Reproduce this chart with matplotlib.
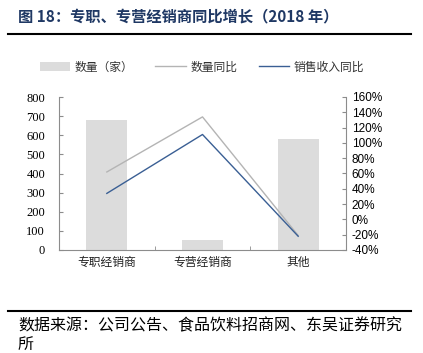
import matplotlib.pyplot as plt
from matplotlib.patches import Patch
from matplotlib.lines import Line2D

plt.rcParams['font.family'] = ['Noto Sans CJK SC', 'DejaVu Sans']

categories = ['专职经销商', '专营经销商', '其他']
counts = [680, 50, 580]            # 数量（家）
count_yoy = [62, 134, -21]         # 数量同比 %
revenue_yoy = [34, 111, -22]       # 销售收入同比 %
left_ticks = [0, 100, 200, 300, 400, 500, 600, 700, 800]
right_ticks = [-40, -20, 0, 20, 40, 60, 80, 100, 120, 140, 160]

bar_color = '#DCDCDC'
gray_line = '#B4B4B4'
blue_line = '#3A5F94'
spine_color = '#8C8C8C'

fig = plt.figure(figsize=(4.23, 3.53), dpi=100)
ax = fig.add_axes([59 / 423, 1 - 250 / 353, 287 / 423, 153 / 353])
x = list(range(len(categories)))

ax.bar(x, counts, width=0.43, color=bar_color, zorder=1)
ax.set_xlim(-0.5, 2.5)
ax.set_ylim(0, 800)
ax.set_yticks(left_ticks)
ax.set_yticklabels([str(t) for t in left_ticks], family='Liberation Serif', fontsize=9)
ax.set_xticks(x)
ax.set_xticklabels(categories, fontsize=8.5, color='#222222')
ax.set_xticks([0.5, 1.5], minor=True)
ax.tick_params(axis='x', which='major', length=0, pad=4)
ax.tick_params(axis='x', which='minor', direction='in', length=3, color=spine_color)
ax.tick_params(axis='y', direction='in', length=3, color=spine_color, pad=10)
for s in ['top', 'right']:
    ax.spines[s].set_visible(False)
ax.spines['left'].set_color(spine_color)
ax.spines['bottom'].set_color(spine_color)

ax2 = ax.twinx()
ax2.plot(x, count_yoy, color=gray_line, lw=1.0, zorder=3)
ax2.plot(x, revenue_yoy, color=blue_line, lw=1.0, zorder=4)
ax2.set_ylim(-40, 160)
ax2.set_yticks(right_ticks)
ax2.set_yticklabels([f'{t}%' for t in right_ticks], family='Liberation Sans', fontsize=8.5)
ax2.tick_params(axis='y', direction='in', length=3, color=spine_color, pad=4)
for s in ['top', 'left', 'bottom']:
    ax2.spines[s].set_visible(False)
ax2.spines['right'].set_color(spine_color)

handles = [Patch(facecolor=bar_color, edgecolor='none'),
           Line2D([], [], color=gray_line, lw=1.0),
           Line2D([], [], color=blue_line, lw=1.0)]
fig.legend(handles, ['数量（家）', '数量同比', '销售收入同比'], loc='center',
           bbox_to_anchor=(202 / 423, 1 - 67 / 353), ncol=3, frameon=False,
           fontsize=8.5, handlelength=2.6, handletextpad=0.4, columnspacing=1.8,
           labelcolor='#333333')

fig.text(18 / 423, 1 - 16 / 353, '图 18：专职、专营经销商同比增长（2018 年）',
         fontsize=11, fontweight='bold', color='#1F3864', va='center')
fig.add_artist(Line2D([8 / 423, 411 / 423], [1 - 34 / 353, 1 - 34 / 353],
                      color='black', lw=1.5))
fig.add_artist(Line2D([8 / 423, 411 / 423], [1 - 311 / 353, 1 - 311 / 353],
                      color='black', lw=1.5))
fig.text(18 / 423, 1 - 326 / 353, '数据来源：公司公告、食品饮料招商网、东吴证券研究',
         fontsize=11.5, color='black', va='center')
fig.text(18 / 423, 0.0, '所', fontsize=11.5, color='black', va='bottom')

fig.savefig('out.png', dpi=100)
